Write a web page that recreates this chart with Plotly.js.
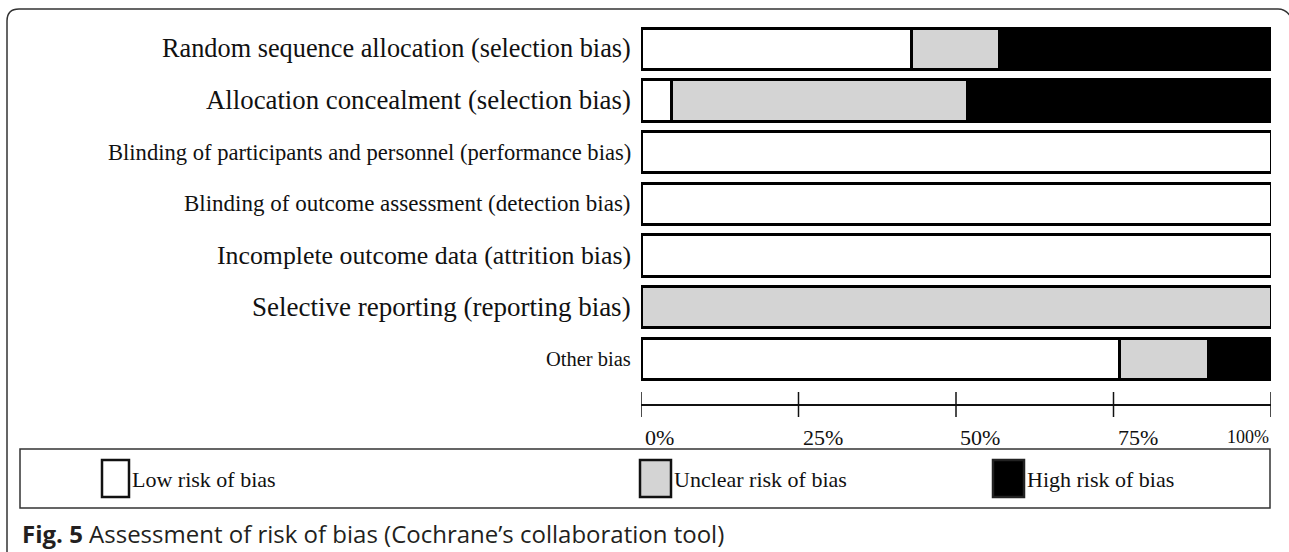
<!DOCTYPE html>
<html>
<head>
<meta charset="utf-8">
<script src="https://cdn.plot.ly/plotly-3.0.1.min.js"></script>
<style>
  html, body { margin: 0; padding: 0; background: #fff; }
  #chart { width: 1289px; height: 552px; }
</style>
</head>
<body>
<div id="chart"></div>
<script>
// ---- data ----
const categories = [
  "Random sequence allocation (selection bias)",
  "Allocation concealment (selection bias)",
  "Blinding of participants and personnel (performance bias)",
  "Blinding of outcome assessment (detection bias)",
  "Incomplete outcome data (attrition bias)",
  "Selective reporting (reporting bias)",
  "Other bias"
];
const lowRisk     = [42.9, 4.8, 100, 100, 100, 0, 75.9];
const unclearRisk = [14.0, 47.1, 0, 0, 0, 100, 14.1];
const highRisk    = [43.1, 48.1, 0, 0, 0, 0, 10.0];
const seriesNames = ["Low risk of bias", "Unclear risk of bias", "High risk of bias"];
const tickValues  = [0, 25, 50, 75, 100];
const tickLabels  = ["0%", "25%", "50%", "75%", "100%"];
const captionBold = "Fig. 5";
const captionText = " Assessment of risk of bias (Cochrane\u2019s collaboration tool)";

// ---- helpers (pixel -> paper) ----
const W = 1289, H = 552;
const px = v => v / W;
const py = v => 1 - v / H;

const serif = "Liberation Serif, Times New Roman, serif";
const colors = ["#ffffff", "#d4d4d4", "#000000"];
const values = [lowRisk, unclearRisk, highRisk];
// the original labels are not uniformly scaled
const labelSizes = [26.3, 26.8, 22.6, 23, 25.8, 27, 20.5];

const traces = values.map((vals, i) => ({
  type: "bar",
  orientation: "h",
  name: seriesNames[i],
  y: categories,
  x: vals,
  marker: { color: colors[i], line: { color: "#000", width: 3 } },
  hoverinfo: "x+y+name",
  showlegend: false
}));

const shapes = [];
const annotations = [];

// category labels
categories.forEach((c, i) => {
  annotations.push({ xref: "paper", yref: "y", x: px(633), y: c, text: c, showarrow: false,
    xanchor: "right", yanchor: "middle",
    font: { family: serif, size: labelSizes[i], color: "#111" } });
});

// axis line and crossing ticks
shapes.push({ type: "line", xref: "x", yref: "paper",
  x0: tickValues[0], x1: tickValues[tickValues.length - 1], y0: py(405), y1: py(405),
  line: { color: "#111", width: 2 } });
tickValues.forEach((t, i) => {
  shapes.push({ type: "line", xref: "x", yref: "paper", x0: t, x1: t, y0: py(392), y1: py(417),
    line: { color: "#111", width: 1.5 } });
  const last = i === tickValues.length - 1;
  annotations.push({ xref: "x", yref: "paper", x: t, y: py(437), text: tickLabels[i],
    showarrow: false, xanchor: last ? "right" : "left", yanchor: "middle",
    xshift: last ? 0 : 2,
    font: { family: serif, size: last ? 18 : 22, color: "#111" } });
});

// legend box
shapes.push({ type: "rect", xref: "paper", yref: "paper", x0: px(20), x1: px(1270), y0: py(508), y1: py(449),
  line: { color: "#333", width: 1.5 }, fillcolor: "rgba(0,0,0,0)" });
const legendSq = [[102, 129], [640, 671], [993, 1024]];
legendSq.forEach((s, i) => {
  shapes.push({ type: "rect", xref: "paper", yref: "paper", x0: px(s[0]), x1: px(s[1]), y0: py(497), y1: py(460),
    line: { color: i === 2 ? "#222" : "#111", width: 2.5 }, fillcolor: colors[i] });
  annotations.push({ xref: "paper", yref: "paper", x: px(s[1] + 1), y: py(479), text: seriesNames[i],
    showarrow: false, xanchor: "left", yanchor: "middle",
    font: { family: serif, size: 22, color: "#111" } });
});

// outer rounded frame (partial)
const framePath = [
  "M", px(7), py(552), "L", px(7), py(21),
  "Q", px(7), py(9), px(19), py(9),
  "L", px(1278), py(9),
  "Q", px(1286), py(9), px(1291), py(17)
].join(" ");
shapes.push({ type: "path", xref: "paper", yref: "paper", path: framePath,
  line: { color: "#333", width: 1.5 } });

// caption
annotations.push({ xref: "paper", yref: "paper", x: px(20), y: py(533), xanchor: "left", yanchor: "middle",
  showarrow: false, text: "<b>" + captionBold + "</b>" + captionText,
  font: { family: "Open Sans, Noto Sans, sans-serif", size: 24, color: "#231f20" } });

const layout = {
  width: W, height: H,
  margin: { l: 0, r: 0, t: 0, b: 0 },
  paper_bgcolor: "#fff", plot_bgcolor: "#fff",
  barmode: "stack", bargap: 0.2,
  showlegend: false,
  xaxis: { domain: [px(641), px(1271)], range: [0, 100], showgrid: false, zeroline: false,
    showticklabels: false, ticks: "", showline: false, fixedrange: true },
  yaxis: { domain: [py(384.5), py(23)], type: "category", autorange: "reversed",
    showgrid: false, zeroline: false, showline: false, ticks: "",
    showticklabels: false, fixedrange: true },
  shapes: shapes,
  annotations: annotations
};

Plotly.newPlot("chart", traces, layout, { displayModeBar: false, staticPlot: true });
</script>
</body>
</html>
